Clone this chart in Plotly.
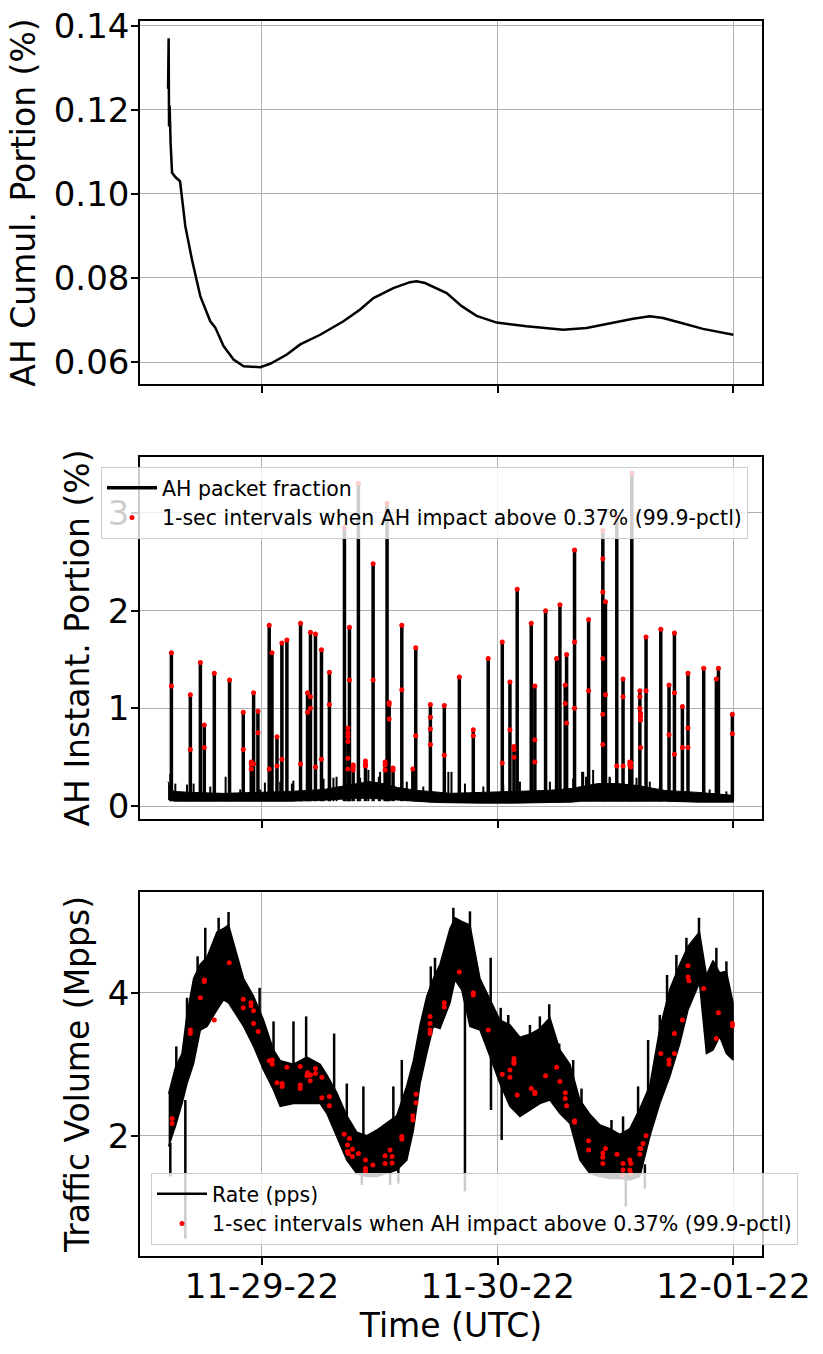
import pandas as pd
import plotly.graph_objects as go
from plotly.subplots import make_subplots

# times are hours relative to 2022-11-29 00:00 UTC
T0 = pd.Timestamp("2022-11-29 00:00")

# --- panel 1: cumulative AH portion (%)
cum_hours = [-9.56, -9.50, -9.46, -9.40, -9.30, -9.15, -8.82, -8.34, -7.80, -7.12, -6.27,
             -5.26, -4.75, -3.91, -2.89, -1.87, -0.17, 0.84, 2.54, 3.90, 5.93,
             8.30, 10.0, 11.35, 13.38, 15.08, 15.76, 16.61, 18.81, 20.34, 21.86,
             23.90, 26.95, 30.67, 33.05, 35.76, 37.79, 39.49, 40.84, 42.53, 44.91, 48.0]
cum_vals = [0.125, 0.137, 0.116, 0.121, 0.112, 0.105, 0.104, 0.103, 0.0923, 0.0843, 0.0756,
            0.0697, 0.0682, 0.0638, 0.0606, 0.0590, 0.0588, 0.0596, 0.0618, 0.0642, 0.0665,
            0.0697, 0.0725, 0.0752, 0.0776, 0.0790, 0.0792, 0.0788, 0.0764, 0.0733, 0.0710,
            0.0694, 0.0685, 0.0677, 0.0681, 0.0694, 0.0703, 0.0709, 0.0705, 0.0694, 0.0679, 0.0665]

# --- panel 2: instantaneous AH portion (%)
base_hours = [-9.56, -9.3, -8.9, -7.3, -3.9, -0.5, 2.9, 6.3, 8.4, 9.7, 11.0, 12.4, 13.8,
              15.8, 17.1, 18.5, 19.2, 22.3, 25.7, 29.1, 31.5, 32.5, 34.2, 36.2, 38.3, 41.0,
              44.4, 48.0]
base_low = [0.07, 0.06, 0.05, 0.05, 0.05, 0.05, 0.05, 0.06, 0.07, 0.08, 0.08, 0.07, 0.06,
            0.05, 0.04, 0.035, 0.03, 0.03, 0.03, 0.035, 0.04, 0.05, 0.05, 0.05, 0.05, 0.05,
            0.04, 0.04]
base_high = [0.25, 0.17, 0.15, 0.14, 0.13, 0.14, 0.15, 0.17, 0.21, 0.23, 0.25, 0.23, 0.19,
             0.16, 0.15, 0.14, 0.13, 0.14, 0.15, 0.16, 0.18, 0.20, 0.23, 0.23, 0.21, 0.16,
             0.14, 0.11]

# small unmarked excursions above the baseline
fuzz_hours = [-9.33, -8.82, -7.63, -6.96, -5.26, -3.70, -2.21, -0.17, 0.30, 1.86, 3.05,
              3.20, 4.58, 6.27, 7.28, 7.60, 10.00, 10.84, 11.90, 12.03, 14.75, 16.43, 18.98,
              19.30, 20.67, 22.54, 24.57, 26.27, 29.32, 31.69, 32.60, 32.71, 33.00, 33.72,
              35.40, 35.42, 38.14, 39.49, 40.51, 42.88, 45.59, 47.29]
fuzz_peaks = [0.33, 0.23, 0.22, 0.23, 0.20, 0.30, 0.17, 0.17, 0.24, 0.25, 0.23,
              0.26, 0.25, 0.28, 0.29, 0.30, 0.29, 0.37, 0.30, 0.35, 0.25, 0.20, 0.35,
              0.35, 0.23, 0.20, 0.22, 0.25, 0.25, 0.28, 0.35, 0.35, 0.30, 0.37,
              0.30, 0.29, 0.29, 0.25, 0.20, 0.20, 0.17, 0.15]

spike_hours = [-9.22, -7.29, -6.27, -5.87, -4.85, -3.30, -1.90, -1.09, -0.85, -0.41, 0.74,
               1.02, 1.53, 2.03, 2.54, 3.93, 4.64, 4.94, 5.45, 6.06, 6.87, 8.40, 8.75, 8.91,
               9.29, 9.82, 10.54, 11.32, 12.54, 12.74, 12.95, 13.35, 14.24, 15.36, 15.66,
               17.15, 18.57, 20.10, 21.52, 23.04, 24.47, 25.25, 25.66, 25.99, 27.42, 27.79,
               28.88, 30.00, 30.34, 30.88, 31.02, 31.83, 33.26, 34.71, 34.98, 36.13, 36.77,
               37.46, 37.66, 38.48, 39.11, 40.61, 41.45, 42.00, 42.81, 43.38, 44.98, 46.27,
               46.48, 47.90]
spike_peaks = [1.57, 1.14, 1.47, 0.83, 1.36, 1.29, 0.96, 0.46, 1.16, 0.97, 1.85,
               1.57, 0.71, 1.67, 1.70, 1.87, 1.16, 1.78, 1.76, 1.60, 1.37, 2.85, 0.80, 1.83,
               0.42, 3.30, 0.46, 2.48, 0.46, 3.10, 1.06, 0.39, 1.85, 0.38, 1.62,
               1.04, 1.03, 1.32, 0.78, 1.51, 1.68, 1.27, 0.61, 2.22, 1.87, 1.23,
               2.00, 1.51, 2.06, 1.24, 1.55, 2.62, 1.91, 2.82, 2.09, 2.96, 1.30,
               0.45, 3.41, 1.18, 1.73, 1.81, 1.24, 1.77, 1.02, 1.36, 1.41, 1.30,
               1.41, 0.94]
SPIKE_FLOOR = 0.05

dot2_hours = [-9.22, -9.22, -7.29, -7.29, -6.27, -5.87, -5.87, -4.85, -3.30, -1.90, -1.90,
              -1.09, -1.09, -1.09, -0.85, -0.85, -0.41, -0.41, 0.74, 1.02, 0.74, 1.53, 1.53,
              2.03, 2.03, 2.54, 3.93, 3.93, 4.64, 4.64, 4.94, 4.94, 4.94, 5.45, 5.45, 6.06,
              6.06, 6.87, 6.87, 8.40, 8.75, 8.75, 8.75, 8.75, 8.75, 8.75, 8.91, 8.91, 9.29,
              9.29, 9.29, 9.82, 10.54, 10.54, 10.54, 11.32, 11.32, 12.54, 12.54, 12.54, 12.74,
              12.95, 12.95, 12.95, 13.35, 13.35, 14.24, 14.24, 15.36, 15.66, 15.66, 17.15,
              17.15, 17.15, 17.15, 18.57, 18.57, 20.10, 21.52, 21.52, 23.04, 24.47, 24.47,
              25.25, 25.25, 25.66, 25.66, 25.66, 25.99, 27.42, 27.79, 27.79, 27.79, 28.88,
              30.00, 30.34, 30.88, 30.88, 31.02, 31.02, 31.83, 31.83, 31.83, 33.26, 33.26,
              34.71, 34.71, 34.71, 34.71, 34.71, 34.71, 34.98, 34.98, 36.13, 36.13, 36.77,
              36.77, 36.77, 37.46, 37.46, 37.56, 37.56, 37.66, 38.48, 38.48, 38.48, 38.55,
              38.55, 38.55, 38.55, 39.11, 39.11, 40.61, 41.45, 41.45, 42.00, 42.00, 42.00,
              42.81, 42.81, 43.38, 43.38, 43.38, 44.98, 46.27, 46.48, 47.90, 47.90]
dot2_vals = [1.57, 1.23, 1.14, 0.58, 1.47, 0.83, 0.60, 1.36, 1.29, 0.96, 0.58,
             0.45, 0.43, 0.38, 1.16, 0.43, 0.97, 0.75, 1.85, 1.57, 0.38, 0.71, 0.41,
             1.67, 0.48, 1.70, 1.87, 0.43, 1.16, 0.96, 1.78, 1.12, 1.00, 1.76, 0.40, 1.60,
             0.48, 1.37, 1.04, 2.85, 0.80, 0.75, 0.71, 0.66, 0.49, 0.38, 1.83, 1.29, 0.42,
             0.40, 0.37, 3.30, 0.46, 0.43, 0.41, 2.48, 1.29, 0.45, 0.42, 0.37, 3.10,
             1.06, 1.04, 0.89, 0.39, 0.37, 1.85, 1.19, 0.38, 1.62, 0.72, 1.04,
             0.91, 0.79, 0.63, 1.03, 0.52, 1.32, 0.78, 0.72, 1.51, 1.68, 0.44,
             1.27, 0.78, 0.61, 0.58, 0.50, 2.22, 1.87, 1.23, 0.68, 0.45, 2.00,
             1.51, 2.06, 1.24, 1.05, 1.55, 0.85, 2.62, 1.68, 1.00, 1.91, 1.18,
             2.82, 2.53, 2.19, 1.51, 0.94, 0.63, 2.09, 1.14, 2.96, 0.41, 1.30,
             1.12, 0.41, 0.45, 0.42, 0.44, 0.40, 3.41, 1.18, 1.12, 1.00, 0.95,
             0.92, 0.88, 0.60, 1.73, 1.18, 1.81, 1.24, 0.73, 1.77, 1.16, 0.53,
             1.02, 0.60, 1.36, 0.80, 0.60, 1.41, 1.30, 1.41, 0.94, 0.74]

# --- panel 3: traffic volume (Mpps), envelope of the 1-sec rate
rate_hours = [-9.50, -8.82, -8.14, -7.63, -6.96, -6.27, -5.59, -4.58, -3.91, -3.40, -2.89,
              -1.87, -0.85, 0.16, 1.18, 1.86, 3.21, 4.58, 5.93, 6.61, 7.63, 8.64, 9.66,
              10.68, 11.70, 12.71, 13.73, 14.75, 15.42, 16.10, 16.78, 17.45, 18.13, 19.15,
              19.66, 20.34, 21.18, 22.20, 23.22, 24.23, 25.25, 26.27, 27.29, 28.30, 29.32,
              30.34, 31.36, 32.37, 33.39, 34.41, 35.43, 36.44, 37.46, 38.48, 39.49, 40.51,
              41.53, 42.55, 43.38, 44.55, 45.26, 45.93, 46.61, 47.29, 47.97]
rate_upper = [2.59, 2.95, 3.15, 3.70, 4.20, 4.40, 4.50, 4.85, 4.90, 4.95, 4.70,
              4.20, 3.95, 3.62, 3.20, 3.05, 3.00, 3.10, 3.00, 2.85, 2.60, 2.28, 2.05,
              2.00, 2.08, 2.18, 2.28, 2.70, 3.05, 3.55, 3.95, 4.20, 4.40, 4.90,
              5.05, 5.00, 4.95, 4.20, 3.90, 3.62, 3.55, 3.38, 3.42, 3.50, 3.65,
              3.20, 3.00, 2.50, 2.30, 2.15, 2.10, 2.02, 2.10, 2.38, 2.70, 3.50,
              4.05, 4.40, 4.65, 4.85, 4.25, 4.45, 4.28, 4.30, 3.86]
rate_lower = [1.85, 2.13, 2.45, 2.73, 3.01, 3.48, 3.53, 3.76, 3.90, 3.86, 3.76,
              3.53, 3.25, 2.92, 2.64, 2.41, 2.45, 2.45, 2.45, 2.31, 1.99, 1.66, 1.47,
              1.43, 1.43, 1.47, 1.52, 1.66, 2.08, 2.73, 3.15, 3.53, 3.50, 3.86,
              4.18, 4.04, 3.53, 3.48, 3.11, 2.73, 2.41, 2.27, 2.36, 2.45, 2.50,
              2.31, 2.17, 1.66, 1.47, 1.43, 1.40, 1.40, 1.38, 1.43, 1.99, 2.45,
              2.83, 3.29, 3.76, 4.14, 3.15, 3.20, 3.39, 3.15, 3.06]

# isolated 1-sec excursions sticking out of the band
rate_spike_hours = [-9.33, -8.72, -7.80, -7.63, -6.55, -5.77, -4.41, -3.40, -0.24, 1.18, 3.21,
                    4.50, 7.35, 8.64, 10.17, 10.33, 13.05, 13.38, 13.89, 14.24, 17.19, 17.62,
                    19.49, 20.67, 21.18, 23.29, 23.32, 24.31, 24.41, 25.08, 27.29, 28.30, 29.25,
                    30.27, 31.69, 32.54, 35.59, 36.77, 37.05, 38.30, 38.99, 39.32, 40.51, 41.25,
                    42.20, 43.22, 44.50, 46.27, 47.29]
rate_spike_from = [1.90, 2.40, 2.50, 3.00, 3.40, 4.00, 4.00, 4.20, 3.50, 2.90, 2.70,
                   2.80, 2.30, 1.90, 1.50, 1.80, 1.50, 1.90, 1.55, 2.10, 3.90, 3.90,
                   4.30, 4.00, 4.20, 3.50, 3.20, 3.20, 2.90, 3.00, 2.90, 3.00, 3.10,
                   2.80, 2.60, 2.10, 1.80, 1.70, 1.50, 1.90, 1.60, 2.50, 3.00, 3.50,
                   3.80, 4.20, 4.50, 4.00, 3.80]
rate_spike_to = [1.43, 3.25, 0.56, 3.93, 4.51, 4.91, 5.05, 5.13, 4.07, 3.60, 3.60,
                 3.67, 3.43, 2.73, 1.31, 2.69, 1.31, 2.69, 1.33, 3.06, 4.37, 4.49,
                 5.19, 1.22, 5.14, 4.49, 2.36, 3.79, 1.94, 3.69, 3.55, 3.67, 3.84,
                 3.29, 3.06, 2.66, 2.22, 2.27, 1.01, 2.69, 1.26, 3.34, 3.69, 4.25,
                 4.53, 4.77, 5.05, 4.63, 4.44]

dot3_hours = [-9.15, -9.15, -7.29, -7.29, -6.27, -5.87, -5.87, -4.85, -3.33, -1.90, -1.90,
              -1.12, -1.12, -0.85, -0.85, -0.38, 0.74, 1.05, 1.05, 1.53, 2.06, 2.06, 2.54,
              3.90, 3.90, 3.90, 4.58, 4.64, 4.91, 4.94, 5.45, 5.45, 6.10, 6.10, 6.87, 6.87,
              8.37, 8.91, 8.71, 8.71, 8.80, 9.21, 9.21, 9.82, 10.54, 10.54, 10.54, 11.29,
              12.54, 12.54, 13.05, 13.25, 13.25, 14.24, 14.24, 15.36, 15.36, 15.69, 15.69,
              17.12, 17.12, 17.12, 17.12, 18.57, 18.57, 20.10, 21.52, 21.52, 23.04, 24.47,
              25.25, 25.25, 25.66, 25.66, 25.66, 25.99, 27.42, 27.79, 27.79, 28.88, 30.00,
              30.34, 30.88, 30.88, 31.02, 31.83, 31.83, 33.26, 33.26, 34.71, 34.71, 34.71,
              34.98, 36.16, 36.77, 36.77, 36.77, 37.46, 37.46, 37.56, 37.56, 38.48, 38.48,
              38.58, 38.81, 39.11, 40.61, 41.45, 41.45, 42.00, 42.00, 42.81, 43.38, 43.38,
              43.48, 44.98, 46.27, 46.48, 47.90, 47.90]
dot3_vals = [2.24, 2.17, 3.48, 3.43, 3.93, 4.18, 4.16, 3.62, 4.42, 3.91, 3.79,
             3.86, 3.82, 3.75, 3.57, 3.46, 3.05, 3.00, 3.06, 2.74, 2.73, 2.69, 2.96,
             2.97, 2.71, 2.66, 2.84, 2.88, 2.77, 2.85, 2.94, 2.87, 2.82, 2.53, 2.55, 2.42,
             2.02, 1.96, 1.87, 1.78, 1.75, 1.71, 1.81, 1.75, 1.66, 1.54, 1.50, 1.59,
             1.72, 1.61, 1.80, 1.71, 1.62, 1.99, 1.95, 2.28, 2.22, 2.58, 2.46,
             3.67, 3.57, 3.48, 3.43, 3.86, 3.80, 4.29, 4.00, 3.97, 3.48, 2.86,
             2.92, 2.82, 3.08, 3.04, 3.01, 2.57, 2.66, 2.61, 2.59, 2.84, 2.96,
             2.76, 2.60, 2.52, 2.42, 2.19, 2.21, 1.93, 1.80, 1.76, 1.70, 1.61,
             1.82, 1.74, 1.61, 1.52, 1.45, 1.66, 1.52, 1.61, 1.47, 1.74, 1.82,
             1.82, 1.89, 2.00, 3.15, 3.06, 3.00, 3.43, 3.15, 3.62, 4.38, 4.22,
             4.17, 4.06, 3.36, 3.72, 3.57, 3.54]

x_tick_vals = ["2022-11-29", "2022-11-30", "2022-12-01"]
x_tick_text = ["11-29-22", "11-30-22", "12-01-22"]
x_range = ["2022-11-28 11:35", "2022-12-01 02:55"]

dot_label = "1-sec intervals when AH impact above 0.37% (99.9-pctl)"


def to_time(hours):
    return list(T0 + pd.to_timedelta(hours, unit="h"))


def segments(hours, starts, ends):
    xs, ys = [], []
    for t, a, b in zip(to_time(hours), starts, ends):
        xs += [t, t, None]
        ys += [a, b, None]
    return xs, ys


fig = make_subplots(rows=3, cols=1, shared_xaxes=True)

# panel 1
fig.add_trace(go.Scatter(x=to_time(cum_hours), y=cum_vals, mode="lines",
                         line=dict(color="black", width=2.5), showlegend=False),
              row=1, col=1)

# panel 2: dense baseline, spikes, marked intervals
bt = to_time(base_hours)
fig.add_trace(go.Scatter(x=bt + bt[::-1], y=base_high + base_low[::-1], mode="lines",
                         fill="toself", fillcolor="black",
                         line=dict(color="black", width=1), showlegend=False,
                         hoverinfo="skip"), row=2, col=1)
fx, fy = segments(fuzz_hours, [SPIKE_FLOOR] * len(fuzz_hours), fuzz_peaks)
fig.add_trace(go.Scatter(x=fx, y=fy, mode="lines", line=dict(color="black", width=2),
                         showlegend=False, hoverinfo="skip"), row=2, col=1)
sx, sy = segments(spike_hours, [SPIKE_FLOOR] * len(spike_hours), spike_peaks)
fig.add_trace(go.Scatter(x=sx, y=sy, mode="lines", name="AH packet fraction",
                         line=dict(color="black", width=3.5), legend="legend"),
              row=2, col=1)
fig.add_trace(go.Scatter(x=to_time(dot2_hours), y=dot2_vals, mode="markers", name=dot_label,
                         marker=dict(color="red", size=5), legend="legend"),
              row=2, col=1)

# panel 3: rate band, spikes, marked intervals
rt = to_time(rate_hours)
fig.add_trace(go.Scatter(x=rt + rt[::-1], y=rate_upper + rate_lower[::-1], mode="lines",
                         fill="toself", fillcolor="black",
                         line=dict(color="black", width=1.5), showlegend=False,
                         hoverinfo="skip"), row=3, col=1)
rx, ry = segments(rate_spike_hours, rate_spike_from, rate_spike_to)
fig.add_trace(go.Scatter(x=rx, y=ry, mode="lines", name="Rate (pps)",
                         line=dict(color="black", width=2.5), legend="legend2"),
              row=3, col=1)
fig.add_trace(go.Scatter(x=to_time(dot3_hours), y=dot3_vals, mode="markers", name=dot_label,
                         marker=dict(color="red", size=5), legend="legend2"),
              row=3, col=1)

axis_style = dict(showline=True, mirror=True, linecolor="black", linewidth=1.5,
                  showgrid=True, gridcolor="#b0b0b0", gridwidth=1.3, zeroline=False,
                  ticks="outside", ticklen=7, tickwidth=1.5, tickcolor="black",
                  tickfont=dict(size=34, color="black"), automargin=False,
                  ticklabeloverflow="allow")

for r in (1, 2, 3):
    fig.update_xaxes(axis_style, range=x_range, tickvals=x_tick_vals, ticktext=x_tick_text,
                     showticklabels=(r == 3), ticklabelstandoff=-8, row=r, col=1)

fig.update_xaxes(title=dict(text="Time (UTC)", font=dict(size=33), standoff=0), row=3, col=1)

title_font = dict(size=33)
fig.update_yaxes(axis_style, ticklabelstandoff=-5)
fig.update_yaxes(range=[0.0548, 0.1411], tickvals=[0.06, 0.08, 0.10, 0.12, 0.14],
                 tickformat=".2f", domain=[0.7061, 1.0],
                 title=dict(text="AH Cumul. Portion (%)", font=title_font, standoff=8),
                 row=1, col=1)
fig.update_yaxes(range=[-0.133, 3.573], tickvals=[0, 1, 2, 3], domain=[0.3538, 0.6470],
                 title=dict(text="AH Instant. Portion (%)", font=title_font, standoff=8),
                 row=2, col=1)
fig.update_yaxes(range=[0.317, 5.41], tickvals=[2, 4], domain=[0.0, 0.2947],
                 title=dict(text="Traffic Volume (Mpps)", font=title_font, standoff=8),
                 row=3, col=1)

legend_style = dict(bgcolor="rgba(255,255,255,0.8)", bordercolor="#cccccc", borderwidth=1,
                    font=dict(size=20.5, color="black"), itemwidth=50, tracegroupgap=0)

fig.update_layout(
    width=823, height=1354,
    margin=dict(l=140, r=61, t=21, b=98),
    plot_bgcolor="white", paper_bgcolor="white",
    font=dict(family="DejaVu Sans", color="black"),
    legend=dict(legend_style, x=-0.0627, y=0.6389, xanchor="left", yanchor="top"),
    legend2=dict(legend_style, x=0.0177, y=0.0089, xanchor="left", yanchor="bottom"),
    hovermode="closest",
)

# drop the page's default body margin so the figure sits at the window's corner
fig.write_html("out.html", config={"displayModeBar": False},
               post_script="document.body.style.margin = '0';")
